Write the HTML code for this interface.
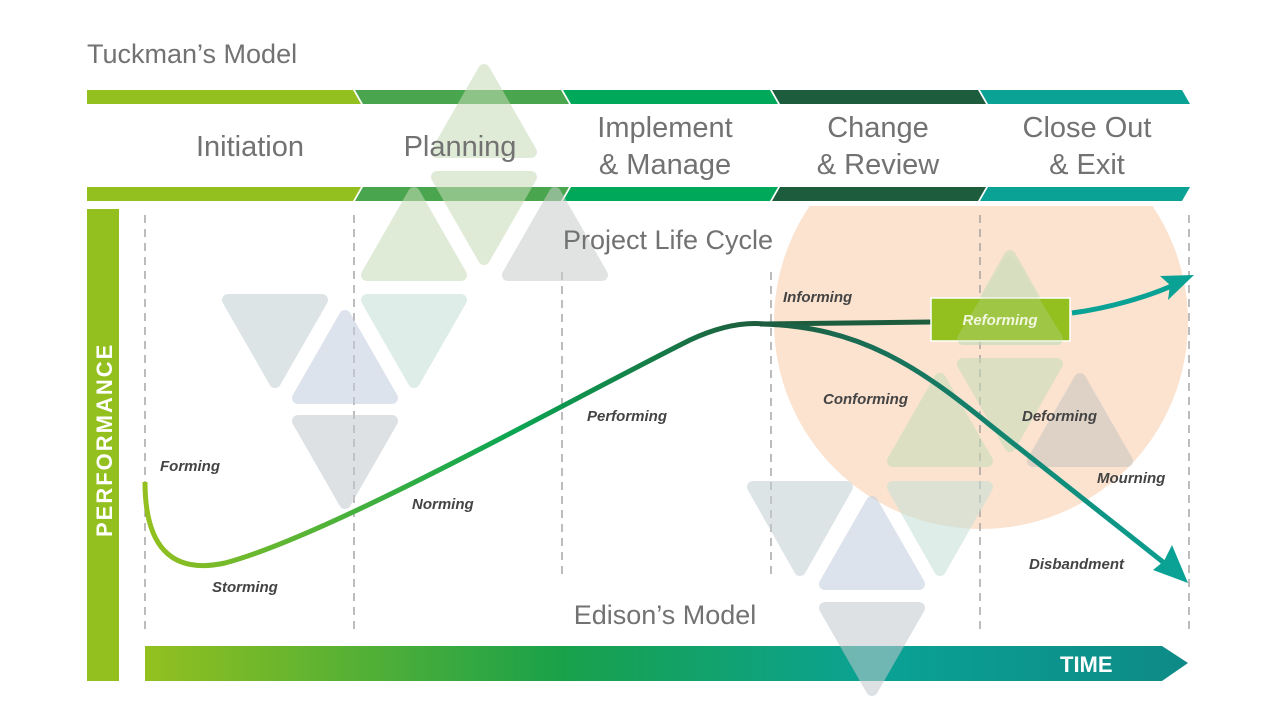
<!DOCTYPE html>
<html><head><meta charset="utf-8"><style>
html,body{margin:0;padding:0;background:#fff;}
svg{display:block;}
.big{font-family:"Liberation Sans",sans-serif;font-size:29px;fill:#727272;font-weight:normal;}
.lab{font-family:"Liberation Sans",sans-serif;font-size:15px;font-weight:bold;font-style:italic;fill:#444;}
</style></head><body>
<svg width="1280" height="720" viewBox="0 0 1280 720" xmlns="http://www.w3.org/2000/svg">
<defs>
<linearGradient id="tg" x1="145" y1="0" x2="1188" y2="0" gradientUnits="userSpaceOnUse">
<stop offset="0" stop-color="#93c01f"/><stop offset="0.4" stop-color="#19a14a"/><stop offset="0.7" stop-color="#0aa295"/><stop offset="1" stop-color="#0e8a86"/></linearGradient>
<linearGradient id="cg" x1="145" y1="0" x2="760" y2="0" gradientUnits="userSpaceOnUse">
<stop offset="0" stop-color="#93c01f"/><stop offset="0.6" stop-color="#0aa552"/><stop offset="1" stop-color="#1e5c3e"/></linearGradient>
<linearGradient id="dg" x1="760" y1="0" x2="1188" y2="0" gradientUnits="userSpaceOnUse">
<stop offset="0" stop-color="#1e5c3e"/><stop offset="1" stop-color="#0aa295"/></linearGradient>
<clipPath id="cc"><rect x="0" y="206" width="1280" height="514"/></clipPath>
</defs>

<text x="87" y="63" class="big" style="font-size:27px">Tuckman’s Model</text>

<g>
<polygon points="87,90 353,90 361,104 87,104" fill="#93c01f"/>
<polygon points="355,90 561,90 569,104 363,104" fill="#4aa54f"/>
<polygon points="563,90 770,90 778,104 571,104" fill="#00a85a"/>
<polygon points="772,90 978,90 986,104 780,104" fill="#1e5c3e"/>
<polygon points="980,90 1182,90 1190,104 988,104" fill="#0aa295"/>
<polygon points="87,187 361,187 353,201 87,201" fill="#93c01f"/>
<polygon points="363,187 569,187 561,201 355,201" fill="#4aa54f"/>
<polygon points="571,187 778,187 770,201 563,201" fill="#00a85a"/>
<polygon points="780,187 986,187 978,201 772,201" fill="#1e5c3e"/>
<polygon points="988,187 1190,187 1182,201 980,201" fill="#0aa295"/>
</g>

<circle cx="981" cy="322" r="207" fill="#fbe3d0" clip-path="url(#cc)"/>

<g stroke="#999" stroke-width="1.3" stroke-dasharray="8,6">
<line x1="145" y1="215" x2="145" y2="630"/>
<line x1="354" y1="215" x2="354" y2="630"/>
<line x1="562" y1="272" x2="562" y2="578"/>
<line x1="771" y1="272" x2="771" y2="578"/>
<line x1="980" y1="215" x2="980" y2="630"/>
<line x1="1189" y1="215" x2="1189" y2="630"/>
</g>

<g stroke-width="12" stroke-linejoin="round" opacity="0.55">
<polygon points="484,70 437,152 531,152" fill="#c6dcb8" stroke="#c6dcb8"/>
<polygon points="437,177 531,177 484,259" fill="#c6dcb8" stroke="#c6dcb8"/>
<polygon points="414,193 367,275 461,275" fill="#c6dcb8" stroke="#c6dcb8"/>
<polygon points="555,193 508,275 602,275" fill="#c7cdca" stroke="#c7cdca"/>
<polygon points="228,300 322,300 275,382" fill="#c3ced3" stroke="#c3ced3"/>
<polygon points="367,300 461,300 414,382" fill="#c4e0d6" stroke="#c4e0d6"/>
<polygon points="345,316 298,398 392,398" fill="#c3cdde" stroke="#c3cdde"/>
<polygon points="298,421 392,421 345,503" fill="#c4c9cf" stroke="#c4c9cf"/>
<polygon points="1010,256 963,339 1057,339" fill="#c6dcb8" stroke="#c6dcb8"/>
<polygon points="963,364 1057,364 1010,446" fill="#c6dcb8" stroke="#c6dcb8"/>
<polygon points="940,379 893,461 987,461" fill="#c6dcb8" stroke="#c6dcb8"/>
<polygon points="1080,379 1033,461 1127,461" fill="#c7c5c0" stroke="#c7c5c0"/>
<polygon points="753,487 847,487 800,570" fill="#c3ced3" stroke="#c3ced3"/>
<polygon points="872,502 825,584 919,584" fill="#c3cdde" stroke="#c3cdde"/>
<polygon points="893,487 987,487 940,570" fill="#c4e0d6" stroke="#c4e0d6"/>
</g>

<rect x="87" y="209" width="32" height="472" fill="#93c01f"/>
<text transform="translate(112,537) rotate(-90)" font-family="Liberation Sans,sans-serif" font-weight="bold" font-size="22" fill="#fff" letter-spacing="2">PERFORMANCE</text>

<polygon points="145,646 1162,646 1188,663 1162,681 145,681" fill="url(#tg)"/>
<text x="1060" y="672" font-family="Liberation Sans,sans-serif" font-weight="bold" font-size="22" fill="#fff">TIME</text>
<g stroke-width="12" stroke-linejoin="round" opacity="0.55">
<polygon points="825,608 919,608 872,690" fill="#c4c9cf" stroke="#c4c9cf"/>
</g>

<path d="M145,482 C145,545 170,575 225,563 C 330,535 560,405 690,340 C 720,326 745,322 765,324" fill="none" stroke="url(#cg)" stroke-width="5"/>
<path d="M760,324 C 820,323 880,323 931,322" fill="none" stroke="#1e5c3e" stroke-width="5"/>
<path d="M760,324 C 860,326 920,368 990,425 L 1168,566" fill="none" stroke="url(#dg)" stroke-width="5"/>
<polygon points="1188,583 1153,570 1164,561 1172,545" fill="#0aa295"/>
<path d="M1072,313 C1110,308 1150,296 1176,284" fill="none" stroke="#0aa295" stroke-width="5"/>
<polygon points="1194,275 1160,276 1170,285 1168,300" fill="#0aa295"/>

<rect x="931" y="298" width="139" height="43" fill="#93c01f" stroke="#fff" stroke-width="1.5"/>
<g stroke-width="12" stroke-linejoin="round" opacity="0.25">
<polygon points="1010,262 963,339 1057,339" fill="#c6dcb8" stroke="#c6dcb8"/>
</g>
<text x="1000" y="325" text-anchor="middle" class="lab" style="fill:#f2f7e0">Reforming</text>

<text x="250" y="156" text-anchor="middle" class="big">Initiation</text>
<text x="460" y="156" text-anchor="middle" class="big">Planning</text>
<text x="665" y="137" text-anchor="middle" class="big">Implement</text>
<text x="665" y="174" text-anchor="middle" class="big">&amp; Manage</text>
<text x="878" y="137" text-anchor="middle" class="big">Change</text>
<text x="878" y="174" text-anchor="middle" class="big">&amp; Review</text>
<text x="1087" y="137" text-anchor="middle" class="big">Close Out</text>
<text x="1087" y="174" text-anchor="middle" class="big">&amp; Exit</text>
<text x="668" y="249" text-anchor="middle" class="big" style="font-size:27px">Project Life Cycle</text>
<text x="665" y="624" text-anchor="middle" class="big" style="font-size:27px">Edison’s Model</text>

<text x="160" y="471" class="lab">Forming</text>
<text x="212" y="592" class="lab">Storming</text>
<text x="412" y="509" class="lab">Norming</text>
<text x="587" y="421" class="lab">Performing</text>
<text x="783" y="302" class="lab">Informing</text>
<text x="823" y="404" class="lab">Conforming</text>
<text x="1022" y="421" class="lab">Deforming</text>
<text x="1097" y="483" class="lab">Mourning</text>
<text x="1029" y="569" class="lab">Disbandment</text>
</svg>
</body></html>
